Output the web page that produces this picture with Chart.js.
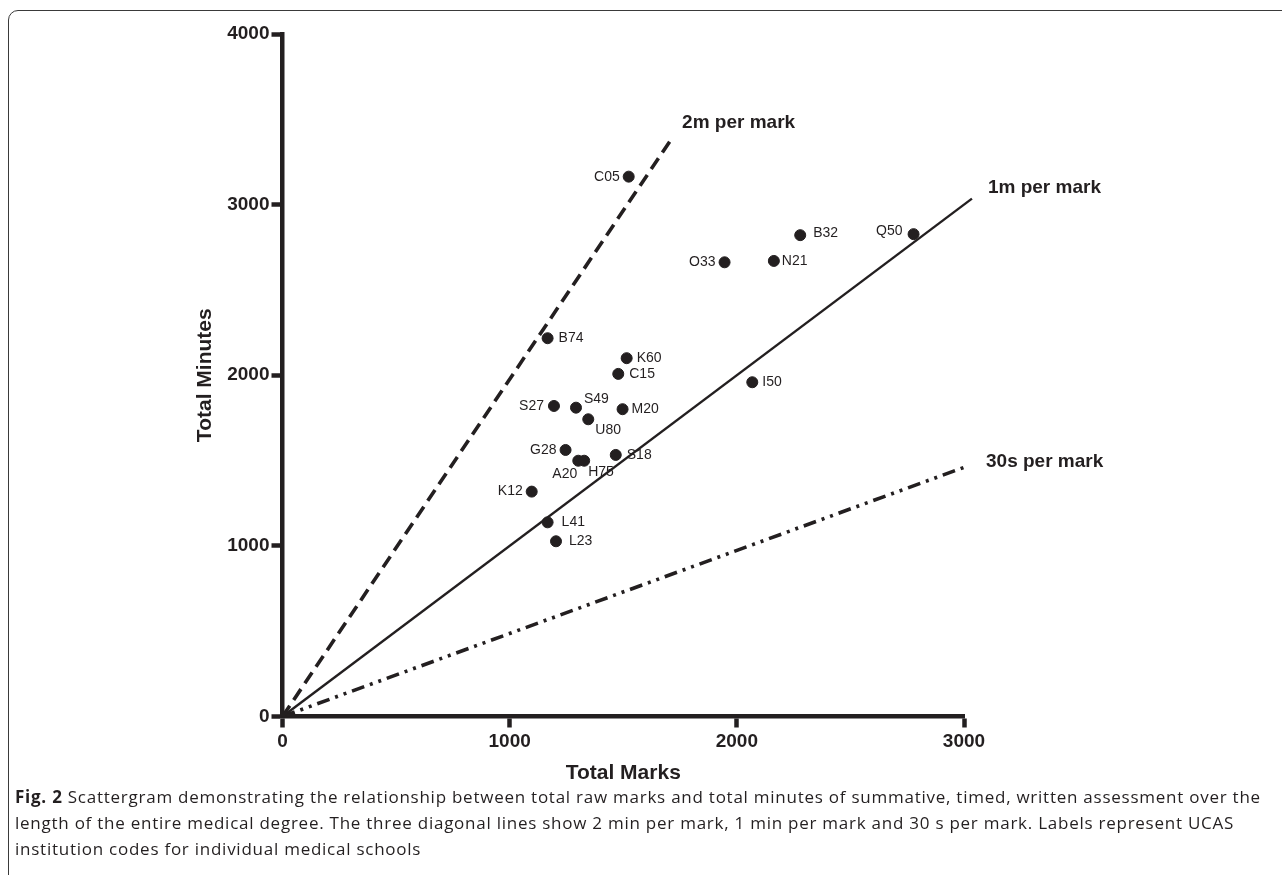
<html><head><script src="https://cdn.jsdelivr.net/npm/chart.js@4.4.3/dist/chart.umd.min.js"></script>
<style>
body { margin:0; width:1282px; height:875px; overflow:hidden; background:#fff; position:relative; }
#frame { position:absolute; left:8px; top:10px; width:1400px; height:1000px; border:1.5px solid #3a3a3a; border-radius:10px; }
#wrap { position:absolute; left:0; top:0; width:1282px; height:790px; }
#cap { position:absolute; left:15px; top:784px; font-family:"Open Sans"; font-size:17px; letter-spacing:0.75px; line-height:26px; color:#231f20; white-space:nowrap; }
</style></head>
<body>
<div id="frame"></div>
<div id="wrap"><canvas id="mychart"></canvas></div>
<div id="cap"><b>Fig. 2</b> Scattergram demonstrating the relationship between total raw marks and total minutes of summative, timed, written assessment over the<br>length of the entire medical degree. The three diagonal lines show 2 min per mark, 1 min per mark and 30 s per mark. Labels represent UCAS<br>institution codes for individual medical schools</div>
<script>
// medical schools (UCAS codes), total marks, total minutes
schools = ["C05","B32","Q50","O33","N21","B74","K60","C15","I50","S27","S49","M20","U80","G28","A20","H75","S18","K12","L41","L23"]
marks   = [1524, 2279, 2778, 1946, 2163, 1167, 1515, 1478, 2068, 1195, 1292, 1497, 1346, 1246, 1302, 1328, 1467, 1097, 1167, 1204]
minutes = [3164, 2821, 2827, 2662, 2670, 2217, 2100, 2008, 1959, 1820, 1810, 1801, 1742, 1562, 1499, 1499, 1533, 1318, 1138, 1027]

// reference lines (start and end)
lineNames = ["2m per mark", "1m per mark", "30s per mark"]
lineX = [[0, 1715], [0, 3035], [0, 3000]]
lineY = [[0, 3390], [0, 3035], [0, 1460]]

xTicks = [0, 1000, 2000, 3000]
yTicks = [0, 1000, 2000, 3000, 4000]

INK = "#231f20"
FONT = "'Liberation Sans', Arial, sans-serif"

// where each school label sits next to its dot: dx, dy, align
place = {
  C05:[-9,0,"right"], B32:[13,-2,"left"], Q50:[-11,-3,"right"], O33:[-9,0,"right"], N21:[8,0,"left"],
  B74:[11,0,"left"], K60:[10,0,"left"], C15:[11,0,"left"], I50:[10,0,"left"], S27:[-10,0,"right"],
  S49:[8,-9,"left"], M20:[9,0,"left"], U80:[7,11,"left"], G28:[-9,0,"right"], A20:[-1,13,"right"],
  H75:[4,11,"left"], S18:[11,0,"left"], K12:[-9,0,"right"], L41:[14,0,"left"], L23:[13,0,"left"]
}
lineLabelOff = [[10,-15], [16,-11], [22,-6]]
dashes = [[13,7], [], [13,6,3,6,3,6]]
widths = [3.6, 2.4, 3.6]

pts = schools.map(function(s, i){ return {x: marks[i], y: minutes[i]} })
sets = [{ type:"scatter", label:"schools", data: pts, backgroundColor: INK, borderColor: INK, pointRadius: 5.5, pointHoverRadius: 5.5, clip: false }]
for (k = 0; k < lineNames.length; k++) {
  sets.push({ type:"line", label: lineNames[k],
    data: [{x: lineX[k][0], y: lineY[k][0]}, {x: lineX[k][1], y: lineY[k][1]}],
    borderColor: INK, borderWidth: widths[k], borderDash: dashes[k], pointRadius: 0, clip: false, fill: false })
}

labelPlugin = {
  id: "labels",
  afterDatasetsDraw(chart) {
    ctx = chart.ctx
    ctx.save()
    ctx.fillStyle = INK
    ctx.textBaseline = "middle"
    ctx.font = "14px " + FONT
    meta = chart.getDatasetMeta(0)
    meta.data.forEach(function(p, i){
      o = place[schools[i]]
      ctx.textAlign = o[2]
      ctx.fillText(schools[i], p.x + o[0], p.y + o[1])
    })
    ctx.font = "bold 19px " + FONT
    ctx.textAlign = "left"
    for (k = 0; k < lineNames.length; k++) {
      end = chart.getDatasetMeta(k + 1).data[1]
      ctx.fillText(lineNames[k], end.x + lineLabelOff[k][0], end.y + lineLabelOff[k][1])
    }
    ctx.restore()
  }
}

plain = function(v){ return String(v) }

axisCommon = {
  border: { display: true, color: INK, width: 4.5 },
  grid: { drawOnChartArea: false, drawTicks: true, tickLength: 11, tickWidth: 4.5, color: INK },
  title: { display: true, color: INK, font: { family: FONT, size: 21, weight: "bold" }, padding: { top: 4, bottom: 4 } }
}

config = {
  data: { datasets: sets },
  options: {
    responsive: false, animation: false, maintainAspectRatio: false,
    layout: { padding: { left: 189, right: 318, top: 34, bottom: 0 } },
    plugins: { legend: { display: false }, tooltip: { enabled: false } },
    scales: {
      x: Object.assign({}, axisCommon, {
        type: "linear", min: 0, max: 3000,
        afterFit: function(s){ s.height = 73.5 },
        afterBuildTicks: function(s){ s.ticks = xTicks.map(function(v){ return {value: v} }) },
        ticks: { color: INK, padding: 3, maxRotation: 0, callback: plain, font: { family: FONT, size: 19, weight: "bold" } },
        title: Object.assign({}, axisCommon.title, { text: "Total Marks" })
      }),
      y: Object.assign({}, axisCommon, {
        type: "linear", min: 0, max: 4000,
        afterFit: function(s){ s.width = 93.5 },
        afterBuildTicks: function(s){ s.ticks = yTicks.map(function(v){ return {value: v} }) },
        ticks: { color: INK, padding: 2, callback: plain, font: { family: FONT, size: 19, weight: "bold" } },
        title: Object.assign({}, axisCommon.title, { text: "Total Minutes" })
      })
    }
  },
  plugins: [labelPlugin]
}
cv = document.querySelector("#mychart")
cv.width = 1282; cv.height = 790
new Chart(cv, config)
</script>
</body></html>
